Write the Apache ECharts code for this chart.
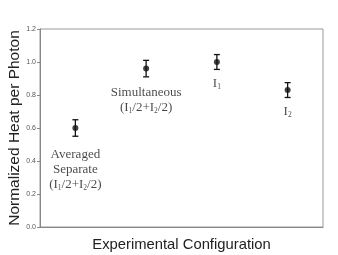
<!DOCTYPE html>
<html><head><meta charset="utf-8">
<script src="https://cdn.jsdelivr.net/npm/echarts@6/dist/echarts.min.js"></script>
<style>html,body{margin:0;padding:0;background:#fff}#c{width:338px;height:255px}</style>
</head><body><div id="c"></div>
<script>
var categories = ['Averaged Separate', 'Simultaneous', 'I1', 'I2'];
var values = [0.60, 0.96, 1.00, 0.83];
var errors = [0.05, 0.05, 0.045, 0.045];
var yTicks = [0, 0.2, 0.4, 0.6, 0.8, 1.0, 1.2];
var labelTexts = [
  '{n|Averaged}\n{n|Separate}\n{n|(I}{s|1}{n|/2+I}{s|2}{n|/2)}',
  '{n|Simultaneous}\n{n|(I}{s|1}{n|/2+I}{s|2}{n|/2)}',
  '{n|I}{s|1}',
  '{n|I}{s|2}'
];
var labelDist = [16, 13, 11, 11];

var chart = echarts.init(document.getElementById('c'), null, {renderer:'canvas'});
var rich = {
  n: {fontFamily: 'Liberation Serif', fontSize: 13, color: '#1a1a1a', lineHeight: 15},
  s: {fontFamily: 'Liberation Serif', fontSize: 7.5, color: '#1a1a1a', lineHeight: 15, verticalAlign: 'bottom', padding:[6,0,0,0]}
};
chart.setOption({
  animation: false,
  grid: {left: 40, right: 15, top: 29, bottom: 28, containLabel: false, outerBoundsMode: 'none',
    show: true, borderColor: '#999', borderWidth: 1},
  xAxis: {
    type: 'category', data: categories, boundaryGap: true,
    axisLine: {lineStyle: {color: '#888'}}, axisTick: {show: false}, axisLabel: {show: false},
    name: 'Experimental Configuration', nameLocation: 'middle', nameGap: 10, nameMoveOverlap: false,
    nameTextStyle: {fontFamily: 'Liberation Sans', fontSize: 14.8, color: '#222'}
  },
  yAxis: {
    type: 'value', min: 0, max: 1.2, interval: 0.2,
    axisLine: {show: true, lineStyle: {color: '#888'}},
    axisTick: {show: true, length: 3, lineStyle: {color: '#888'}},
    splitLine: {show: false},
    axisLabel: {fontFamily: 'Liberation Sans', fontSize: 7, color: '#555', margin: 4,
      formatter: function(v){ return v.toFixed(1); }},
    name: 'Normalized Heat per Photon', nameLocation: 'middle', nameGap: 17, nameMoveOverlap: false,
    nameTextStyle: {fontFamily: 'Liberation Sans', fontSize: 15.5, color: '#222'}
  },
  series: [
    {
      type: 'custom',
      renderItem: function(params, api){
        var x = api.value(0), lo = api.value(1), hi = api.value(2);
        var pLo = api.coord([x, lo]), pHi = api.coord([x, hi]);
        var w = 3;
        var st = {stroke: '#111', lineWidth: 1.3};
        return {type: 'group', children: [
          {type: 'line', shape: {x1: pLo[0], y1: pLo[1], x2: pHi[0], y2: pHi[1]}, style: st},
          {type: 'line', shape: {x1: pLo[0]-w, y1: pLo[1], x2: pLo[0]+w, y2: pLo[1]}, style: st},
          {type: 'line', shape: {x1: pHi[0]-w, y1: pHi[1], x2: pHi[0]+w, y2: pHi[1]}, style: st}
        ]};
      },
      data: values.map(function(v, i){ return [i, v - errors[i], v + errors[i]]; }),
      z: 2
    },
    {
      type: 'scatter', symbol: 'circle', symbolSize: 6,
      itemStyle: {color: '#111'},
      data: values.map(function(v, i){
        return {value: [i, v], label: {show: true, position: 'bottom', distance: labelDist[i],
          formatter: labelTexts[i], rich: rich, align: 'center'}};
      }),
      z: 3
    }
  ]
});
</script></body></html>
